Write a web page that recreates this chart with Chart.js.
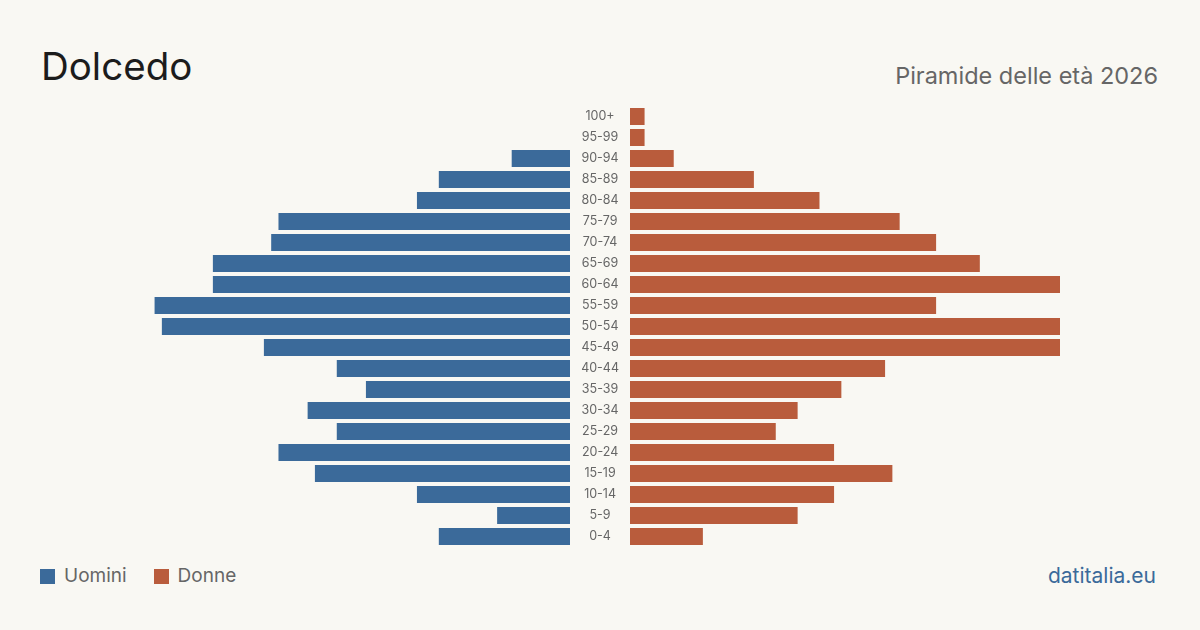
<!DOCTYPE html>
<html>
<head>
<meta charset="utf-8">
<script src="https://cdn.jsdelivr.net/npm/chart.js@4"></script>
<style>
  html, body { margin: 0; padding: 0; }
  body { width: 1200px; height: 630px; background: #f9f8f3; position: relative; overflow: hidden; font-family: Inter, "Noto Sans", sans-serif; }
  .title { position: absolute; left: 41px; top: 42px; font-size: 38.5px; color: #1c1c1c; line-height: 48px; }
  .subtitle { position: absolute; right: 42px; top: 61px; font-size: 23.5px; color: #666; line-height: 30px; }
  .legend { position: absolute; left: 40px; top: 564px; font-size: 19px; color: #666; line-height: 24px; display: flex; }
  .legend span { display: inline-flex; align-items: center; margin-right: 27px; }
  .legend i { width: 15px; height: 15px; display: inline-block; margin-right: 9px; }
  .source { position: absolute; right: 44px; top: 563px; font-size: 21px; color: #3b6a9a; line-height: 26px; }
  #wrapL { position: absolute; left: 140px; top: 106px; width: 430px; height: 441px; }
  #wrapR { position: absolute; left: 570px; top: 106px; width: 490px; height: 441px; }
</style>
</head>
<body>
<div class="title">Dolcedo</div>
<div class="subtitle">Piramide delle età 2026</div>
<div class="legend">
  <span><i style="background:#3b6a9a"></i>Uomini</span>
  <span><i style="background:#b95c3c"></i>Donne</span>
</div>
<div class="source">datitalia.eu</div>
<div id="wrapL"><canvas id="menChart"></canvas></div>
<div id="wrapR"><canvas id="womenChart"></canvas></div>
<script>
const ageGroups = ['100+', '95-99', '90-94', '85-89', '80-84', '75-79', '70-74', '65-69', '60-64', '55-59',
  '50-54', '45-49', '40-44', '35-39', '30-34', '25-29', '20-24', '15-19', '10-14', '5-9', '0-4'];
const men   = [0, 0, 8, 18, 21, 40, 41, 49, 49, 57, 56, 42, 32, 28, 36, 32, 40, 35, 21, 10, 18];
const women = [2, 2, 6, 17, 26, 37, 42, 48, 59, 42, 59, 59, 35, 29, 23, 20, 28, 36, 28, 23, 10];
const maxValue = 59;

const blue = '#3b6a9a';
const orange = '#b95c3c';

Chart.defaults.font.family = 'Inter, "Noto Sans", sans-serif';
Chart.defaults.animation = false;

// uomini, asse rovesciato verso sinistra
new Chart(document.getElementById('menChart'), {
  type: 'bar',
  data: {
    labels: ageGroups,
    datasets: [{ label: 'Uomini', data: men, backgroundColor: blue, barPercentage: 0.81, categoryPercentage: 1 }]
  },
  options: {
    indexAxis: 'y',
    responsive: true,
    maintainAspectRatio: false,
    layout: { padding: 0 },
    plugins: { legend: { display: false }, tooltip: { enabled: false } },
    scales: {
      x: { display: false, reverse: true, min: 0, max: maxValue },
      y: { display: false }
    }
  }
});

// donne, con le etichette delle classi d'età al centro
new Chart(document.getElementById('womenChart'), {
  type: 'bar',
  data: {
    labels: ageGroups,
    datasets: [{ label: 'Donne', data: women, backgroundColor: orange, barPercentage: 0.81, categoryPercentage: 1 }]
  },
  options: {
    indexAxis: 'y',
    responsive: true,
    maintainAspectRatio: false,
    layout: { padding: 0 },
    plugins: { legend: { display: false }, tooltip: { enabled: false } },
    scales: {
      x: { display: false, min: 0, max: maxValue },
      y: {
        grid: { display: false, drawTicks: false },
        border: { display: false },
        ticks: { color: '#666', font: { size: 12.5 }, padding: 11, crossAlign: 'center' },
        afterFit: scale => {
          scale.width = 60;
          scale.paddingTop = 0;
          scale.paddingBottom = 0;
        }
      }
    }
  }
});
</script>
</body>
</html>
